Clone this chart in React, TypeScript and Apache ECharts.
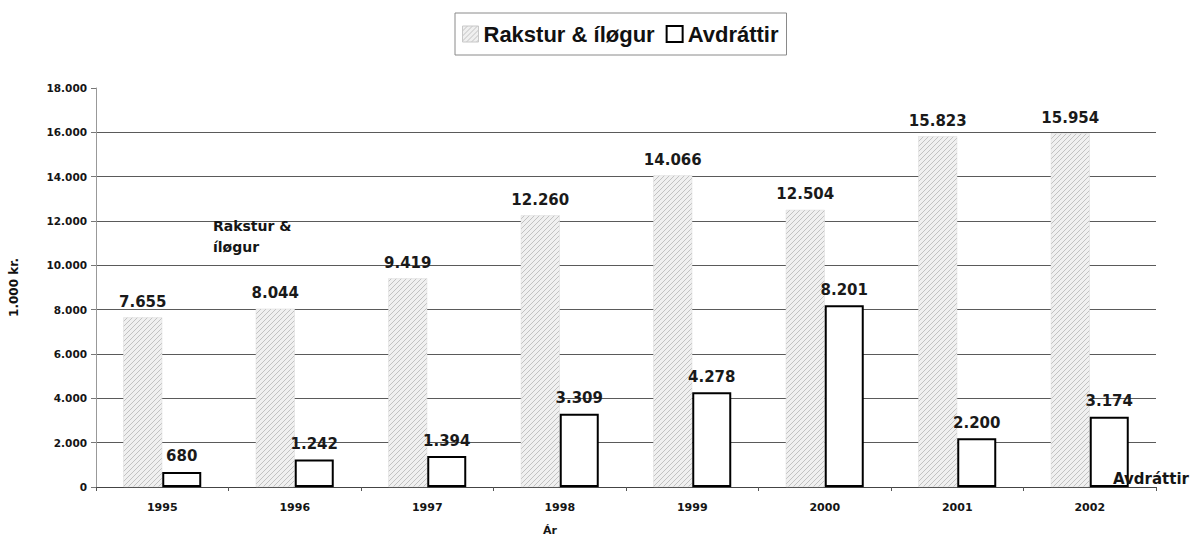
import React, { useEffect, useRef } from "react";
import * as echarts from "echarts";

const categories = ["1995", "1996", "1997", "1998", "1999", "2000", "2001", "2002"];
const rakstur = [7655, 8044, 9419, 12260, 14066, 12504, 15823, 15954];
const avdrattir = [680, 1242, 1394, 3309, 4278, 8201, 2200, 3174];
const seriesNames = ["Rakstur & íløgur", "Avdráttir"];
const yMax = 18000;
const yStep = 2000;

const fmt = (v: number) => String(v).replace(/\B(?=(\d{3})+(?!\d))/g, ".");

function makeHatch(): HTMLCanvasElement {
  const c = document.createElement("canvas");
  c.width = 5;
  c.height = 5;
  const ctx = c.getContext("2d")!;
  ctx.fillStyle = "#f0f0f0";
  ctx.fillRect(0, 0, 5, 5);
  ctx.strokeStyle = "#c2c2c2";
  ctx.lineWidth = 1;
  ctx.beginPath();
  ctx.moveTo(-1, 6);
  ctx.lineTo(6, -1);
  ctx.moveTo(-1, 1);
  ctx.lineTo(1, -1);
  ctx.moveTo(4, 6);
  ctx.lineTo(6, 4);
  ctx.stroke();
  return c;
}

export default function App() {
  const ref = useRef<HTMLDivElement>(null);
  useEffect(() => {
    if (!ref.current) return;
    const chart = echarts.init(ref.current, undefined, { renderer: "svg" });
    const hatch = { image: makeHatch(), repeat: "repeat" } as any;
    const labelStyle = {
      show: true,
      position: "top" as const,
      distance: 8,
      formatter: (p: any) => fmt(p.value),
      fontFamily: "DejaVu Sans",
      fontWeight: "bold" as const,
      fontSize: 15,
      color: "#1a1a1a",
    };
    const splitColors = Array.from({ length: yMax / yStep + 1 }, (_, i) =>
      i === yMax / yStep ? "rgba(0,0,0,0)" : "#5a5a5a"
    );
    chart.setOption({
      animation: false,
      backgroundColor: "#ffffff",
      legend: {
        data: [
          { name: seriesNames[0], itemStyle: { color: hatch, borderColor: "#c8c8c8", borderWidth: 1 } },
          { name: seriesNames[1], itemStyle: { color: "#ffffff", borderColor: "#000000", borderWidth: 2 } },
        ],
        left: 455,
        top: 13,
        padding: [10, 8, 10, 7],
        itemWidth: 16,
        itemHeight: 16,
        itemGap: 11,
        icon: "rect",
        borderColor: "#8a8a8a",
        borderWidth: 1,
        textStyle: {
          fontFamily: "Liberation Sans",
          fontWeight: "bold",
          fontSize: 22,
          color: "#111111",
        },
      },
      grid: { left: 96, right: 41, top: 88, bottom: 55, containLabel: false },
      xAxis: {
        type: "category",
        data: categories,
        boundaryGap: true,
        axisLine: { lineStyle: { color: "#444444", width: 1 } },
        axisTick: { show: true, length: 4, lineStyle: { color: "#555555" } },
        axisLabel: {
          margin: 15,
          fontFamily: "DejaVu Sans",
          fontWeight: "bold",
          fontSize: 11,
          color: "#151515",
        },
      },
      yAxis: {
        type: "value",
        min: 0,
        max: yMax,
        interval: yStep,
        name: "1.000 kr.",
        nameLocation: "middle",
        nameRotate: 90,
        nameGap: 76,
        nameTextStyle: {
          fontFamily: "DejaVu Sans",
          fontWeight: "bold",
          fontSize: 12,
          color: "#111111",
        },
        axisLine: { show: true, lineStyle: { color: "#999999", width: 1 } },
        axisTick: { show: true, length: 5, inside: false, lineStyle: { color: "#777777" } },
        splitLine: { show: true, lineStyle: { color: splitColors, width: 1 } },
        axisLabel: {
          margin: 9,
          formatter: (v: number) => fmt(v),
          fontFamily: "DejaVu Sans",
          fontWeight: "bold",
          fontSize: 10.5,
          color: "#151515",
        },
      },
      series: [
        {
          name: seriesNames[0],
          type: "bar",
          data: rakstur,
          barWidth: 39,
          barGap: "0%",
          itemStyle: { color: hatch, borderColor: "#dcdcdc", borderWidth: 0.5 },
          label: labelStyle,
        },
        {
          name: seriesNames[1],
          type: "bar",
          data: avdrattir,
          barWidth: 39,
          barGap: "0%",
          itemStyle: { color: "#ffffff", borderColor: "#000000", borderWidth: 2 },
          label: labelStyle,
        },
      ],
      graphic: [
        {
          type: "text",
          left: 213,
          top: 215,
          z: 100,
          style: {
            text: "Rakstur &\níløgur",
            font: "bold 14px 'DejaVu Sans'",
            lineHeight: 21,
            fill: "#151515",
          },
        },
        {
          type: "text",
          left: 1113,
          top: 471,
          z: 100,
          style: {
            text: "Avdráttir",
            font: "bold 15px 'DejaVu Sans'",
            fill: "#151515",
          },
        },
        {
          type: "text",
          left: 543,
          top: 525,
          z: 100,
          style: {
            text: "Ár",
            font: "bold 11px 'DejaVu Sans'",
            fill: "#151515",
          },
        },
      ],
    });
    return () => chart.dispose();
  }, []);
  return (
    <div
      ref={ref}
      style={{ position: "fixed", left: 0, top: 0, width: 1197, height: 542 }}
    />
  );
}
